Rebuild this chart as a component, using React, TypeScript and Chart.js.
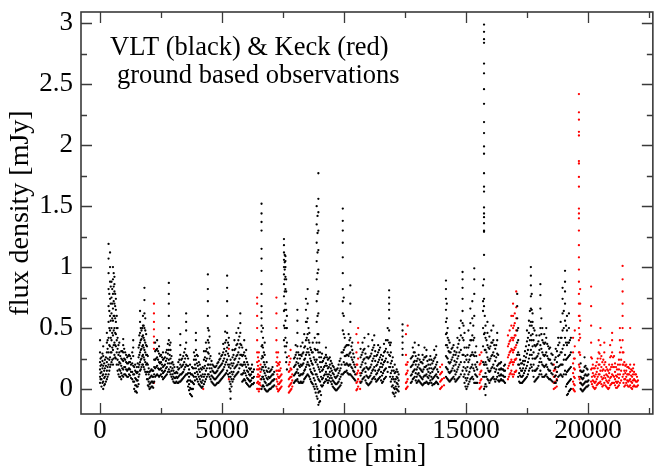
import React, { useEffect, useRef } from "react";
import { Chart, registerables } from "chart.js";

Chart.register(...registerables);

type Column = [number, number[]];

// ---- axis ticks ----
const xMajorTicks = [0, 5000, 10000, 15000, 20000];
const xMinorTicks = [2500, 7500, 12500, 17500, 22500];
const yMajorTicks = [0, 0.5, 1, 1.5, 2, 2.5, 3];
const yMinorTicks = [0.25, 0.75, 1.25, 1.75, 2.25, 2.75];
const xRange = [-780, 22660];
const yRange = [-0.205, 3.093];

const annotationLines = ["VLT (black) & Keck (red)", "ground based observations"];
const xTitle = "time [min]";
const yTitle = "flux density [mJy]";

// ---- VLT (black) : [time, flux values at that time] ----
const vltSegmentA: Column[] = [
  [0, [0.05, 0.1, 0.16, 0.22, 0.3, 0.4]],
  [60, [0.02, 0.08, 0.14, 0.2, 0.26]],
  [130, [0.0, 0.06, 0.12, 0.19, 0.27, 0.35]],
  [200, [0.04, 0.1, 0.17, 0.24]],
  [280, [0.08, 0.15, 0.22, 0.3, 0.38, 0.46]],
  [350, [0.12, 0.2, 0.3, 0.42, 0.55, 0.68, 0.82, 0.95, 1.07, 1.19]],
  [410, [0.18, 0.26, 0.35, 0.48, 0.6, 0.74, 0.88, 1.0, 1.12]],
  [470, [0.22, 0.3, 0.4, 0.5, 0.62, 0.75, 0.88]],
  [530, [0.2, 0.32, 0.44, 0.56, 0.66, 0.78, 0.9, 1.0]],
  [590, [0.28, 0.38, 0.5, 0.6, 0.7, 0.8, 0.86, 0.92]],
  [650, [0.25, 0.35, 0.45, 0.55, 0.65, 0.74]],
  [720, [0.15, 0.24, 0.33, 0.42, 0.5]],
  [790, [0.1, 0.16, 0.22, 0.3, 0.38]],
  [870, [0.08, 0.13, 0.19, 0.25, 0.31]],
  [950, [0.1, 0.16, 0.23, 0.3, 0.36, 0.41]],
  [1030, [0.12, 0.18, 0.24, 0.3]],
  [1110, [0.1, 0.15, 0.21, 0.26]],
  [1190, [0.12, 0.17, 0.22, 0.28]],
  [1270, [0.09, 0.14, 0.2, 0.25]],
  [1360, [0.06, 0.12, 0.19, 0.27, 0.34, 0.4]],
  [1440, [-0.02, 0.03, 0.09, 0.15, 0.2]],
  [1510, [-0.03, 0.02, 0.07, 0.13, 0.18]],
  [1580, [0.04, 0.1, 0.18, 0.26, 0.34]],
  [1640, [0.15, 0.22, 0.3, 0.38, 0.46, 0.55, 0.64]],
  [1700, [0.18, 0.25, 0.33, 0.41, 0.48]],
  [1760, [0.2, 0.28, 0.36, 0.44, 0.52, 0.6]],
  [1820, [0.16, 0.24, 0.32, 0.4, 0.5, 0.62, 0.73, 0.83]],
  [1890, [0.12, 0.2, 0.28, 0.36, 0.45]],
  [1960, [0.03, 0.08, 0.14, 0.2, 0.27]],
  [2030, [0.0, 0.04, 0.09, 0.14]],
  [2110, [0.02, 0.06, 0.11, 0.16]],
  [2180, [0.01, 0.05, 0.1, 0.15]],
  [2260, [0.1, 0.17, 0.24, 0.31, 0.38]],
  [2340, [0.12, 0.19, 0.26, 0.33, 0.4]],
  [2420, [0.1, 0.16, 0.22, 0.29, 0.35]],
  [2500, [0.12, 0.17, 0.22, 0.28]],
  [2580, [0.08, 0.13, 0.18, 0.24, 0.3]],
  [2660, [0.1, 0.15, 0.2, 0.26]],
  [2740, [0.12, 0.18, 0.25, 0.32]],
  [2820, [0.16, 0.24, 0.32, 0.4, 0.5, 0.6, 0.7, 0.78, 0.87]],
  [2890, [0.12, 0.18, 0.25, 0.32, 0.38]],
  [2970, [0.08, 0.12, 0.17, 0.22]],
  [3050, [0.05, 0.09, 0.13, 0.18]],
  [3130, [0.06, 0.1, 0.14]],
  [3210, [0.05, 0.1, 0.16, 0.22]],
  [3290, [0.06, 0.12, 0.2, 0.28, 0.36, 0.45]],
  [3370, [0.08, 0.13, 0.19, 0.25]],
  [3450, [0.1, 0.16, 0.22, 0.3]],
  [3530, [0.12, 0.2, 0.28, 0.38, 0.48, 0.55, 0.62]],
  [3610, [0.02, 0.07, 0.13, 0.19, 0.25]],
  [3690, [-0.04, 0.01, 0.07, 0.13, 0.2]],
  [3770, [-0.06, 0.0, 0.06, 0.12, 0.18]],
  [3850, [0.04, 0.1, 0.17, 0.24, 0.3]],
  [3930, [0.1, 0.17, 0.24, 0.32, 0.4, 0.46]],
  [4010, [0.06, 0.12, 0.19, 0.27]],
  [4090, [0.03, 0.08, 0.14, 0.2]],
  [4170, [0.01, 0.05, 0.1, 0.16]],
  [4260, [0.04, 0.1, 0.17, 0.24, 0.31]],
  [4340, [0.08, 0.15, 0.23, 0.31, 0.38]],
  [4420, [0.12, 0.2, 0.3, 0.4, 0.5, 0.6, 0.72, 0.82, 0.94]],
  [4490, [0.1, 0.17, 0.25, 0.34, 0.43]],
  [4570, [0.06, 0.11, 0.17, 0.23]],
  [4650, [0.04, 0.09, 0.14, 0.19]],
  [4730, [0.03, 0.08, 0.13, 0.18]],
  [4810, [0.05, 0.1, 0.15, 0.21]],
  [4890, [0.06, 0.12, 0.18, 0.24, 0.29]],
  [4970, [0.08, 0.14, 0.2, 0.27]],
];

const vltSegmentB: Column[] = [
  [5050, [0.1, 0.16, 0.23, 0.3, 0.37]],
  [5130, [0.12, 0.2, 0.28, 0.38, 0.47]],
  [5210, [0.15, 0.24, 0.34, 0.46, 0.6, 0.72, 0.83, 0.93]],
  [5280, [0.1, 0.18, 0.27, 0.36, 0.42]],
  [5350, [-0.08, -0.02, 0.04, 0.1, 0.17, 0.24]],
  [5430, [0.06, 0.12, 0.19, 0.26, 0.32]],
  [5510, [0.1, 0.17, 0.24, 0.32, 0.4]],
  [5590, [0.12, 0.19, 0.27, 0.36, 0.46]],
  [5670, [0.14, 0.22, 0.3, 0.4, 0.5]],
  [5750, [0.2, 0.28, 0.37, 0.46, 0.54, 0.62]],
  [5830, [0.06, 0.12, 0.19, 0.27, 0.34]],
  [5910, [0.08, 0.15, 0.22, 0.3, 0.4]],
  [5990, [0.05, 0.11, 0.18, 0.25, 0.32]],
  [6070, [0.03, 0.08, 0.14, 0.2]],
  [6150, [0.02, 0.06, 0.11, 0.16]],
  [6230, [0.04, 0.09, 0.14, 0.2]],
  [6310, [0.05, 0.1, 0.16]],
  [6620, [0.0, 0.08, 0.16, 0.25, 0.35, 0.47, 0.52, 0.58, 0.63, 0.68, 0.78, 0.86, 0.97, 1.07, 1.15, 1.3, 1.37, 1.44, 1.52]],
  [6680, [0.03, 0.1, 0.18, 0.26, 0.34, 0.42, 0.5]],
  [6750, [0.0, 0.06, 0.13, 0.2, 0.28, 0.38]],
  [6830, [-0.02, 0.03, 0.09, 0.15, 0.22]],
  [6910, [-0.01, 0.04, 0.1, 0.17]],
  [6990, [0.0, 0.05, 0.1, 0.15]],
  [7070, [0.02, 0.07, 0.12, 0.18]],
  [7140, [0.03, 0.08, 0.14]],
  [7540, [0.4, 0.52, 0.64, 0.76, 0.86, 0.94, 1.0, 1.06, 1.12, 1.18, 1.23]],
  [7600, [0.3, 0.42, 0.56, 0.7, 0.82, 0.92, 1.0, 1.05, 1.09]],
  [7660, [0.16, 0.26, 0.38, 0.5, 0.6]],
  [7950, [0.05, 0.11, 0.18, 0.25]],
  [8020, [0.07, 0.13, 0.2, 0.28, 0.36]],
  [8090, [0.08, 0.16, 0.25, 0.35, 0.46, 0.56, 0.65]],
  [8160, [0.05, 0.11, 0.19, 0.28]],
  [8230, [0.06, 0.12, 0.2, 0.28, 0.35]],
  [8300, [0.05, 0.12, 0.2, 0.29, 0.38]],
  [8370, [0.08, 0.15, 0.24, 0.34, 0.45]],
  [8440, [0.1, 0.18, 0.28, 0.4, 0.55, 0.65, 0.74]],
  [8510, [0.12, 0.22, 0.33, 0.45, 0.58, 0.7, 0.82]],
  [8580, [0.1, 0.19, 0.28, 0.38, 0.46]],
  [8650, [0.06, 0.14, 0.23, 0.32]],
  [8720, [0.04, 0.12, 0.2, 0.3, 0.38]],
  [8800, [0.0, 0.07, 0.15, 0.24, 0.33, 0.42]],
  [8880, [-0.06, 0.02, 0.12, 0.24, 0.38, 0.55, 0.72, 0.9, 1.05, 1.2, 1.35, 1.5]],
  [8950, [-0.13, -0.03, 0.08, 0.18, 0.3, 0.45, 0.62, 0.8, 0.98, 1.14, 1.3, 1.45, 1.56, 1.77]],
  [9020, [-0.1, -0.02, 0.06, 0.14, 0.22, 0.3]],
  [9100, [0.02, 0.08, 0.15, 0.22, 0.29]],
  [9180, [0.05, 0.11, 0.18, 0.25]],
  [9260, [0.08, 0.14, 0.21, 0.28, 0.34]],
  [9340, [0.05, 0.1, 0.17, 0.24]],
  [9420, [0.09, 0.14, 0.2, 0.26]],
  [9500, [0.04, 0.09, 0.15, 0.21]],
  [9580, [0.01, 0.06, 0.12, 0.18]],
  [9660, [-0.01, 0.04, 0.09, 0.15]],
  [9740, [0.0, 0.05, 0.11, 0.17]],
  [9820, [0.02, 0.08, 0.15, 0.23]],
  [9900, [0.05, 0.12, 0.2, 0.3]],
  [9950, [0.12, 0.3, 0.48, 0.62, 0.72, 0.82, 0.95, 1.08, 1.2, 1.3, 1.38, 1.48]],
  [10030, [0.14, 0.2, 0.27, 0.34, 0.42]],
  [10110, [0.15, 0.21, 0.28, 0.36]],
  [10190, [0.12, 0.19, 0.27, 0.36, 0.45]],
  [10260, [0.12, 0.2, 0.3, 0.42, 0.55, 0.7, 0.85]],
  [10340, [0.1, 0.17, 0.24, 0.32, 0.38]],
  [10420, [0.08, 0.14, 0.2, 0.26]],
];

const vltSegmentC: Column[] = [
  [10680, [0.05, 0.11, 0.18, 0.26, 0.33]],
  [10760, [0.08, 0.15, 0.22, 0.3, 0.38]],
  [10840, [0.1, 0.17, 0.25, 0.33, 0.42]],
  [10920, [0.05, 0.11, 0.18, 0.26]],
  [11000, [0.03, 0.09, 0.16, 0.25, 0.35, 0.45]],
  [11080, [0.05, 0.11, 0.18, 0.27]],
  [11160, [0.08, 0.15, 0.23, 0.32, 0.4]],
  [11240, [0.1, 0.18, 0.27, 0.36, 0.44]],
  [11320, [0.06, 0.12, 0.19, 0.27]],
  [11400, [0.08, 0.15, 0.22, 0.3, 0.36]],
  [11480, [0.1, 0.18, 0.26, 0.34]],
  [11560, [0.05, 0.11, 0.18, 0.24]],
  [11640, [0.08, 0.15, 0.22, 0.3, 0.37]],
  [11720, [0.1, 0.17, 0.25, 0.33, 0.4]],
  [11850, [0.18, 0.28, 0.38, 0.48, 0.58, 0.65, 0.7, 0.75, 0.81]],
  [11920, [0.06, 0.13, 0.21, 0.3, 0.38]],
  [12000, [-0.03, 0.03, 0.1, 0.18, 0.26]],
  [12080, [-0.06, 0.0, 0.06, 0.13, 0.2]],
  [12160, [0.0, 0.05, 0.1, 0.16]],
  [12240, [-0.02, 0.02, 0.07, 0.12]],
  [12400, [0.28, 0.33, 0.38, 0.43, 0.48, 0.53]],
  [12740, [0.05, 0.11, 0.18, 0.25]],
  [12820, [0.08, 0.14, 0.2, 0.27, 0.34]],
  [12900, [0.1, 0.16, 0.23, 0.3, 0.38]],
  [12980, [0.05, 0.1, 0.16, 0.23]],
  [13060, [0.07, 0.13, 0.2, 0.28, 0.36]],
  [13140, [0.05, 0.1, 0.16, 0.22]],
  [13220, [0.03, 0.08, 0.14, 0.21, 0.28]],
  [13300, [0.05, 0.11, 0.18, 0.26, 0.34]],
  [13380, [0.06, 0.12, 0.19, 0.27, 0.32]],
  [13460, [0.04, 0.09, 0.14, 0.2]],
  [13540, [0.07, 0.13, 0.2, 0.27]],
  [13620, [0.03, 0.08, 0.14, 0.21]],
  [13700, [0.04, 0.1, 0.17, 0.25, 0.32]],
  [13780, [0.06, 0.12, 0.2, 0.28, 0.35]],
  [13860, [0.04, 0.09, 0.14]],
  [14180, [0.1, 0.18, 0.27, 0.36, 0.45, 0.55, 0.65, 0.74, 0.82, 0.89]],
  [14250, [0.08, 0.16, 0.25, 0.34, 0.42, 0.5]],
  [14330, [0.06, 0.13, 0.21, 0.3, 0.38]],
  [14410, [0.08, 0.15, 0.24, 0.33]],
  [14490, [0.1, 0.19, 0.28, 0.36]],
  [14570, [0.06, 0.12, 0.2, 0.28]],
  [14650, [0.08, 0.16, 0.25, 0.34, 0.42]],
  [14730, [0.1, 0.2, 0.3, 0.4, 0.5]],
  [14860, [0.15, 0.28, 0.42, 0.54, 0.64, 0.74, 0.83, 0.9, 0.96]],
  [14940, [0.05, 0.12, 0.22, 0.34, 0.46]],
  [15020, [0.0, 0.07, 0.15, 0.24, 0.34]],
  [15100, [0.04, 0.12, 0.22, 0.34, 0.48]],
  [15180, [0.08, 0.17, 0.27, 0.4, 0.54, 0.66]],
  [15260, [0.1, 0.2, 0.3, 0.44, 0.58, 0.72]],
  [15340, [0.05, 0.15, 0.27, 0.42, 0.6, 0.78, 0.9, 0.99]],
  [15420, [0.05, 0.11, 0.18, 0.27, 0.35]],
  [15700, [0.1, 0.22, 0.35, 0.5, 0.64, 0.72, 0.85]],
  [15740, [0.0, 0.2, 0.45, 0.68, 0.74, 0.9, 1.1, 1.29, 1.3, 1.36, 1.41, 1.44, 1.49, 1.62, 1.66, 1.77, 1.93, 1.99, 2.1, 2.19, 2.34, 2.46, 2.59, 2.67, 2.84, 2.87, 2.93, 2.99]],
  [15800, [-0.05, 0.04, 0.13, 0.22, 0.32, 0.42, 0.52]],
  [15880, [0.08, 0.17, 0.26, 0.36, 0.46, 0.55]],
  [15960, [0.05, 0.14, 0.23, 0.33, 0.43]],
];

const vltSegmentD: Column[] = [
  [16040, [0.08, 0.17, 0.27, 0.38, 0.48]],
  [16120, [0.1, 0.2, 0.3, 0.4, 0.52]],
  [16200, [0.06, 0.14, 0.23, 0.33]],
  [16280, [0.1, 0.19, 0.29, 0.4, 0.46]],
  [16360, [0.06, 0.11, 0.16, 0.21]],
  [16440, [0.08, 0.12, 0.17, 0.22]],
  [16520, [0.07, 0.11, 0.16]],
  [16600, [0.05, 0.1, 0.15, 0.2]],
  [17100, [0.28, 0.38, 0.48, 0.58, 0.68, 0.78]],
  [17180, [0.06, 0.13, 0.2, 0.28]],
  [17260, [0.05, 0.1, 0.15, 0.21]],
  [17340, [0.06, 0.11, 0.17, 0.23]],
  [17420, [0.08, 0.15, 0.23, 0.31]],
  [17500, [0.1, 0.19, 0.29, 0.39, 0.48]],
  [17580, [0.15, 0.25, 0.36, 0.46, 0.56]],
  [17660, [0.2, 0.32, 0.44, 0.55, 0.66, 0.76, 0.85, 0.93, 1.0]],
  [17730, [0.15, 0.25, 0.35, 0.45, 0.55, 0.62]],
  [17810, [0.06, 0.15, 0.25, 0.36, 0.48]],
  [17890, [0.08, 0.16, 0.26, 0.36, 0.44]],
  [17970, [0.1, 0.19, 0.29, 0.39]],
  [18050, [0.15, 0.25, 0.36, 0.5, 0.66, 0.77, 0.86]],
  [18130, [0.1, 0.2, 0.3, 0.4, 0.5]],
  [18210, [0.1, 0.18, 0.27, 0.37, 0.45]],
  [18290, [0.12, 0.2, 0.3, 0.42, 0.5]],
  [18370, [0.09, 0.16, 0.25, 0.35]],
  [18450, [0.08, 0.15, 0.24, 0.34]],
  [18550, [0.06, 0.12, 0.2, 0.28]],
  [18680, [0.05, 0.11, 0.18, 0.26, 0.33]],
  [18780, [0.1, 0.18, 0.27, 0.36, 0.42]],
  [18880, [0.12, 0.2, 0.3, 0.42, 0.55]],
  [18960, [0.1, 0.2, 0.33, 0.48, 0.62, 0.74, 0.83]],
  [19060, [0.15, 0.28, 0.42, 0.56, 0.7, 0.8, 0.88, 0.97]],
  [19140, [-0.05, 0.04, 0.14, 0.25, 0.36, 0.48, 0.6]],
  [19220, [-0.02, 0.06, 0.16, 0.27, 0.38, 0.5, 0.62]],
  [19300, [0.0, 0.08, 0.18, 0.3, 0.42]],
  [19700, [0.0, 0.05, 0.1, 0.15, 0.21]],
  [19780, [-0.02, 0.03, 0.08, 0.14]],
  [19860, [0.0, 0.05, 0.11, 0.18, 0.26]],
  [19940, [0.02, 0.06, 0.11, 0.17]],
  [20020, [0.03, 0.07, 0.12]],
];

// extra VLT readings between the columns above (dense low-level band)
const vltBandFill: Column[] = [
  [20, [0.08, 0.13, 0.19, 0.25]], [100, [0.05, 0.11, 0.17, 0.23, 0.29]], [170, [0.03, 0.09, 0.15, 0.21]],
  [240, [0.06, 0.12, 0.19, 0.26]], [310, [0.1, 0.18, 0.25, 0.33, 0.4]], [380, [0.15, 0.24, 0.36, 0.5, 0.64, 0.78]],
  [440, [0.2, 0.3, 0.42, 0.56, 0.7, 0.84]], [500, [0.24, 0.34, 0.46, 0.58, 0.7, 0.82]],
  [560, [0.25, 0.36, 0.48, 0.6, 0.72, 0.84, 0.95]], [620, [0.26, 0.36, 0.46, 0.58, 0.68, 0.78]],
  [685, [0.2, 0.3, 0.4, 0.5, 0.6]], [755, [0.12, 0.2, 0.28, 0.36]], [830, [0.1, 0.15, 0.21, 0.27]],
  [910, [0.11, 0.17, 0.24, 0.31]], [990, [0.12, 0.18, 0.25, 0.33]], [1070, [0.11, 0.16, 0.22, 0.28]],
  [1150, [0.1, 0.16, 0.21, 0.27]], [1230, [0.11, 0.16, 0.22, 0.27]], [1320, [0.08, 0.14, 0.21, 0.3]],
  [1400, [0.0, 0.06, 0.12, 0.18]], [1475, [-0.02, 0.03, 0.08, 0.14]], [1545, [0.02, 0.07, 0.14, 0.21]],
  [1610, [0.12, 0.2, 0.28, 0.36, 0.44]], [1670, [0.16, 0.24, 0.32, 0.4, 0.5]], [1730, [0.2, 0.27, 0.35, 0.43, 0.5]],
  [1790, [0.18, 0.26, 0.34, 0.42, 0.52]], [1855, [0.14, 0.22, 0.3, 0.38, 0.48, 0.58]], [1925, [0.08, 0.14, 0.21, 0.28, 0.35]],
  [1995, [0.02, 0.06, 0.12, 0.17]], [2070, [0.01, 0.05, 0.1, 0.15]], [2145, [0.02, 0.06, 0.1, 0.15]],
  [2220, [0.06, 0.12, 0.18, 0.24]], [2300, [0.11, 0.18, 0.25, 0.32]], [2380, [0.11, 0.17, 0.24, 0.31]],
  [2460, [0.11, 0.16, 0.21, 0.27]], [2540, [0.1, 0.15, 0.2, 0.26]], [2620, [0.09, 0.14, 0.19, 0.25]],
  [2700, [0.11, 0.17, 0.23, 0.3]], [2780, [0.14, 0.21, 0.29, 0.37]], [2855, [0.14, 0.21, 0.28, 0.36]],
  [2930, [0.1, 0.15, 0.21, 0.27]], [3010, [0.06, 0.1, 0.15, 0.2]], [3090, [0.05, 0.09, 0.13]],
  [3170, [0.05, 0.09, 0.13, 0.18]], [3250, [0.06, 0.11, 0.17, 0.24]], [3330, [0.07, 0.12, 0.18, 0.24]],
  [3410, [0.09, 0.14, 0.2, 0.27]], [3490, [0.11, 0.18, 0.25, 0.33]], [3570, [0.06, 0.12, 0.19, 0.27]],
  [3650, [-0.01, 0.04, 0.1, 0.16]], [3730, [-0.05, 0.0, 0.06, 0.12]], [3810, [0.0, 0.05, 0.11, 0.17]],
  [3890, [0.07, 0.13, 0.2, 0.27]], [3970, [0.08, 0.14, 0.21, 0.28]], [4050, [0.04, 0.1, 0.16, 0.22]],
  [4130, [0.02, 0.06, 0.11, 0.17]], [4210, [0.02, 0.07, 0.12, 0.18]], [4300, [0.06, 0.12, 0.19, 0.26]],
  [4380, [0.1, 0.17, 0.25, 0.33]], [4455, [0.12, 0.2, 0.29, 0.38, 0.48]], [4530, [0.08, 0.14, 0.2, 0.27]],
  [4610, [0.05, 0.1, 0.15, 0.2]], [4690, [0.03, 0.08, 0.13, 0.18]], [4770, [0.04, 0.09, 0.14, 0.19]],
  [4850, [0.05, 0.11, 0.17, 0.22]], [4930, [0.07, 0.13, 0.19, 0.25]], [5010, [0.09, 0.15, 0.21, 0.28]],
  [5090, [0.11, 0.18, 0.25, 0.33]], [5170, [0.13, 0.22, 0.31, 0.4]], [5245, [0.12, 0.2, 0.29, 0.38]],
  [5315, [0.0, 0.06, 0.13, 0.2]], [5390, [0.02, 0.08, 0.14, 0.21]], [5470, [0.08, 0.14, 0.21, 0.28]],
  [5550, [0.11, 0.18, 0.25, 0.33]], [5630, [0.13, 0.2, 0.28, 0.37]], [5710, [0.17, 0.25, 0.34, 0.43]],
  [5790, [0.12, 0.2, 0.28, 0.36]], [5870, [0.07, 0.13, 0.2, 0.28]], [5950, [0.07, 0.13, 0.2, 0.27]],
  [6030, [0.04, 0.09, 0.15, 0.22]], [6110, [0.02, 0.07, 0.12, 0.17]], [6190, [0.03, 0.07, 0.12, 0.17]],
  [6270, [0.04, 0.09, 0.14]], [6650, [0.02, 0.1, 0.18, 0.27, 0.36]], [6715, [0.02, 0.08, 0.15, 0.22, 0.3]],
  [6790, [-0.01, 0.05, 0.11, 0.18]], [6870, [-0.02, 0.03, 0.08, 0.14]], [6950, [0.0, 0.04, 0.09, 0.14]],
  [7030, [0.01, 0.06, 0.11, 0.16]], [7105, [0.02, 0.07, 0.12]], [7570, [0.35, 0.5, 0.65, 0.8, 0.9, 0.98, 1.04, 1.1]],
  [7630, [0.22, 0.35, 0.5, 0.65, 0.8, 0.9]], [7985, [0.06, 0.12, 0.19, 0.26]], [8055, [0.07, 0.14, 0.22, 0.3]],
  [8125, [0.06, 0.13, 0.21, 0.3]], [8195, [0.05, 0.11, 0.18, 0.25]], [8265, [0.05, 0.12, 0.19, 0.27]],
  [8335, [0.06, 0.13, 0.21, 0.3]], [8405, [0.09, 0.16, 0.25, 0.35]], [8475, [0.11, 0.2, 0.3, 0.42, 0.55]],
  [8545, [0.11, 0.2, 0.3, 0.4, 0.5]], [8615, [0.08, 0.16, 0.25, 0.34]], [8685, [0.05, 0.13, 0.21, 0.3]],
  [8760, [0.02, 0.09, 0.17, 0.26]], [8840, [-0.03, 0.04, 0.12, 0.22, 0.32]],
  [8915, [-0.08, 0.0, 0.1, 0.2, 0.32, 0.45, 0.6, 0.78, 0.95, 1.12, 1.28, 1.42]],
  [8985, [-0.11, -0.02, 0.07, 0.16, 0.26, 0.38]], [9060, [-0.05, 0.03, 0.1, 0.18, 0.26]],
  [9140, [0.03, 0.09, 0.16, 0.23]], [9220, [0.06, 0.12, 0.19, 0.26]], [9300, [0.07, 0.12, 0.19, 0.26]],
  [9380, [0.07, 0.12, 0.18, 0.25]], [9460, [0.06, 0.11, 0.17, 0.23]], [9540, [0.02, 0.07, 0.13, 0.19]],
  [9620, [0.0, 0.05, 0.1, 0.16]], [9700, [-0.01, 0.04, 0.1, 0.16]], [9780, [0.01, 0.06, 0.13, 0.2]],
  [9860, [0.03, 0.1, 0.17, 0.25]], [9990, [0.13, 0.22, 0.32, 0.45, 0.6, 0.75]], [10070, [0.14, 0.2, 0.27, 0.35]],
  [10150, [0.13, 0.2, 0.28, 0.36]], [10225, [0.12, 0.2, 0.29, 0.4]], [10300, [0.11, 0.18, 0.26, 0.35]],
  [10380, [0.09, 0.15, 0.22, 0.29]], [10460, [0.07, 0.12, 0.18]], [10720, [0.06, 0.13, 0.2, 0.28]],
  [10800, [0.09, 0.16, 0.24, 0.32]], [10880, [0.07, 0.14, 0.21, 0.29]], [10960, [0.04, 0.1, 0.17, 0.26]],
  [11040, [0.04, 0.1, 0.17, 0.26]], [11120, [0.06, 0.13, 0.2, 0.29]], [11200, [0.09, 0.16, 0.25, 0.34]],
  [11280, [0.08, 0.15, 0.23, 0.31]], [11360, [0.07, 0.13, 0.2, 0.28]], [11440, [0.09, 0.16, 0.24, 0.32]],
  [11520, [0.07, 0.14, 0.21, 0.28]], [11600, [0.06, 0.13, 0.2, 0.27]], [11680, [0.09, 0.16, 0.23, 0.31]],
  [11790, [0.14, 0.22, 0.3, 0.4, 0.5]], [11890, [0.1, 0.18, 0.27, 0.36]], [11960, [0.02, 0.08, 0.15, 0.23]],
  [12040, [-0.04, 0.01, 0.08, 0.15]], [12120, [-0.03, 0.02, 0.08, 0.14]], [12200, [-0.01, 0.04, 0.09, 0.14]],
  [12780, [0.06, 0.12, 0.19, 0.26]], [12860, [0.09, 0.15, 0.22, 0.3]], [12940, [0.07, 0.13, 0.2, 0.27]],
  [13020, [0.06, 0.12, 0.18, 0.25]], [13100, [0.06, 0.11, 0.17, 0.24]], [13180, [0.04, 0.09, 0.15, 0.22]],
  [13260, [0.04, 0.1, 0.16, 0.24]], [13340, [0.05, 0.11, 0.18, 0.26]], [13420, [0.05, 0.1, 0.16, 0.23]],
  [13500, [0.05, 0.11, 0.17, 0.24]], [13580, [0.05, 0.1, 0.17, 0.24]], [13660, [0.04, 0.09, 0.16, 0.23]],
  [13740, [0.05, 0.11, 0.18, 0.26]], [13820, [0.05, 0.1, 0.16, 0.22]],
  [14215, [0.09, 0.17, 0.26, 0.36, 0.46, 0.58, 0.7]], [14290, [0.07, 0.14, 0.22, 0.31, 0.4]],
  [14370, [0.07, 0.14, 0.22, 0.3]], [14450, [0.09, 0.17, 0.26, 0.34]], [14530, [0.08, 0.15, 0.23, 0.31]],
  [14610, [0.07, 0.14, 0.22, 0.3]], [14690, [0.09, 0.18, 0.27, 0.37]], [14790, [0.12, 0.22, 0.32, 0.44, 0.56]],
  [14900, [0.1, 0.18, 0.28, 0.4, 0.52]], [14980, [0.02, 0.09, 0.17, 0.27]], [15060, [0.02, 0.09, 0.18, 0.28]],
  [15140, [0.06, 0.14, 0.24, 0.36]], [15220, [0.09, 0.18, 0.28, 0.4]], [15300, [0.08, 0.17, 0.28, 0.4, 0.52]],
  [15380, [0.05, 0.12, 0.2, 0.3]], [15460, [0.05, 0.1, 0.16, 0.22]], [15770, [0.02, 0.1, 0.2, 0.32, 0.46, 0.6]],
  [15840, [0.02, 0.1, 0.2, 0.3, 0.4]], [15920, [0.07, 0.15, 0.24, 0.34]], [16000, [0.07, 0.15, 0.25, 0.35]],
  [16080, [0.09, 0.18, 0.28, 0.38]], [16160, [0.08, 0.17, 0.27, 0.36]], [16240, [0.08, 0.16, 0.26, 0.36]],
  [16320, [0.07, 0.13, 0.2, 0.28]], [16400, [0.07, 0.11, 0.16, 0.21]], [16480, [0.07, 0.11, 0.16]],
  [16560, [0.06, 0.1, 0.15, 0.19]], [17140, [0.1, 0.2, 0.3, 0.4, 0.5]], [17220, [0.05, 0.11, 0.17, 0.24]],
  [17300, [0.05, 0.1, 0.15, 0.21]], [17380, [0.07, 0.13, 0.2, 0.27]], [17460, [0.09, 0.17, 0.26, 0.35]],
  [17540, [0.12, 0.22, 0.32, 0.42]], [17620, [0.17, 0.28, 0.4, 0.52, 0.64]], [17695, [0.18, 0.28, 0.4, 0.52, 0.65, 0.78]],
  [17770, [0.1, 0.2, 0.3, 0.4, 0.5]], [17850, [0.07, 0.15, 0.25, 0.35]], [17930, [0.09, 0.17, 0.27, 0.37]],
  [18010, [0.12, 0.22, 0.32, 0.44]], [18090, [0.12, 0.22, 0.33, 0.45, 0.58]], [18170, [0.1, 0.19, 0.28, 0.38]],
  [18250, [0.11, 0.19, 0.28, 0.38]], [18330, [0.1, 0.18, 0.27, 0.37]], [18410, [0.08, 0.15, 0.24, 0.33]],
  [18500, [0.07, 0.13, 0.21, 0.29]], [18640, [0.05, 0.1, 0.17, 0.24]], [18730, [0.07, 0.14, 0.22, 0.31]],
  [18830, [0.11, 0.19, 0.28, 0.38]], [18920, [0.11, 0.2, 0.3, 0.42]], [19010, [0.12, 0.24, 0.36, 0.5, 0.64]],
  [19100, [0.02, 0.12, 0.24, 0.38, 0.52]], [19180, [-0.04, 0.05, 0.15, 0.26, 0.38]], [19260, [-0.01, 0.07, 0.17, 0.28, 0.4]],
  [19740, [-0.01, 0.04, 0.09, 0.14]], [19820, [-0.01, 0.04, 0.09, 0.15]], [19900, [0.01, 0.06, 0.12, 0.19]],
  [19980, [0.02, 0.06, 0.11, 0.16]],
];

// ---- Keck (red) ----
const keckSegmentA: Column[] = [
  [2210, [0.05, 0.33, 0.38, 0.43, 0.49, 0.55, 0.62, 0.7]],
  [4230, [0.0]],
  [5280, [0.08, 0.33]],
  [6440, [0.0, 0.05, 0.1, 0.16, 0.22, 0.3, 0.4, 0.5, 0.6, 0.7, 0.75]],
  [6510, [-0.02, 0.04, 0.1, 0.16, 0.23, 0.3]],
  [6580, [0.03, 0.08, 0.14, 0.2]],
  [7230, [0.02, 0.08, 0.15, 0.22, 0.3, 0.4, 0.5, 0.62, 0.75]],
  [7300, [-0.02, 0.04, 0.1, 0.15, 0.21, 0.3]],
  [7370, [0.0, 0.05, 0.1, 0.15, 0.22]],
  [7440, [0.02, 0.07, 0.12]],
  [7740, [-0.03, 0.02, 0.08, 0.14, 0.2, 0.27]],
  [7810, [-0.01, 0.04, 0.1, 0.17, 0.25, 0.32]],
  [7880, [0.02, 0.07, 0.12]],
  [10510, [-0.01, 0.05, 0.12, 0.2, 0.3, 0.45]],
  [10580, [0.02, 0.08, 0.15, 0.25, 0.38, 0.5]],
  [10660, [0.0, 0.06, 0.13]],
  [12540, [0.0, 0.05, 0.12, 0.2, 0.28, 0.45]],
  [12610, [0.02, 0.08, 0.15, 0.22, 0.52]],
  [13940, [0.0, 0.06, 0.12, 0.18]],
  [14020, [0.02, 0.08, 0.14, 0.2]],
  [14100, [0.03, 0.09]],
];

const keckSegmentB: Column[] = [
  [15560, [0.0, 0.05, 0.12, 0.2, 0.28]],
  [15630, [0.02, 0.08, 0.15, 0.23, 0.3]],
  [16720, [0.08, 0.17, 0.26, 0.35, 0.44]],
  [16790, [0.12, 0.21, 0.3, 0.39, 0.48]],
  [16860, [0.15, 0.24, 0.33, 0.42, 0.52, 0.6]],
  [16930, [0.1, 0.2, 0.3, 0.4, 0.5, 0.6, 0.7]],
  [17000, [0.14, 0.24, 0.34, 0.44, 0.54, 0.62]],
  [17060, [0.15, 0.25, 0.36, 0.48, 0.58, 0.67, 0.8]],
  [18600, [0.0, 0.05, 0.1, 0.15, 0.2]],
  [18720, [0.02, 0.08, 0.14]],
  [19390, [0.0, 0.06, 0.13, 0.21, 0.3, 0.42]],
  [19460, [-0.02, 0.03, 0.09, 0.16, 0.25, 0.35, 0.48]],
  [19630, [0.1, 0.2, 0.3, 0.4, 0.5, 0.6, 0.7, 0.78, 0.88, 0.98, 1.08, 1.18, 1.3, 1.4, 1.44, 1.48, 1.66, 1.74, 1.85, 1.87, 2.08, 2.11, 2.21, 2.27, 2.42]],
  [19680, [0.05, 0.15, 0.28, 0.42, 0.56, 0.7, 0.82]],
  [20130, [0.06, 0.16, 0.26, 0.38, 0.52, 0.68, 0.84]],
  [20200, [0.02, 0.07, 0.13, 0.2]],
  [20280, [0.0, 0.05, 0.1, 0.17]],
  [20360, [0.03, 0.08, 0.14, 0.22]],
  [20440, [0.05, 0.12, 0.2, 0.3, 0.4]],
  [20510, [0.06, 0.15, 0.25, 0.36, 0.5]],
  [20590, [0.02, 0.08, 0.15, 0.22]],
  [20670, [0.05, 0.11, 0.2, 0.3, 0.38]],
  [20750, [0.02, 0.07, 0.12, 0.18]],
  [20830, [0.0, 0.05, 0.1, 0.15]],
  [20910, [0.03, 0.09, 0.16, 0.26, 0.36]],
  [20990, [0.05, 0.12, 0.2, 0.3, 0.4, 0.46]],
  [21070, [0.05, 0.1, 0.18, 0.27]],
  [21150, [0.01, 0.06, 0.11, 0.18]],
  [21230, [0.02, 0.06, 0.12, 0.2]],
  [21310, [0.05, 0.12, 0.2, 0.3, 0.4, 0.5]],
  [21420, [0.1, 0.2, 0.3, 0.4, 0.5, 0.6, 0.7, 0.8, 0.9, 1.01]],
  [21490, [0.02, 0.08, 0.15, 0.22]],
  [21570, [0.05, 0.1, 0.15, 0.2]],
  [21650, [0.02, 0.06, 0.12, 0.18]],
  [21730, [0.03, 0.08, 0.14, 0.2, 0.5]],
  [21810, [0.0, 0.05, 0.1, 0.15]],
  [21890, [0.03, 0.08, 0.14, 0.2]],
  [21970, [0.02, 0.06, 0.12]],
  [22050, [0.03, 0.07]],
];

const keckBandFill: Column[] = [
  [6475, [0.0, 0.06, 0.12, 0.19, 0.26]], [6545, [0.0, 0.05, 0.11, 0.17]], [7265, [0.0, 0.06, 0.12, 0.19, 0.26]],
  [7335, [-0.01, 0.04, 0.09, 0.15, 0.2]], [7405, [0.01, 0.06, 0.11, 0.17]], [7775, [-0.02, 0.03, 0.09, 0.15, 0.22]],
  [7845, [0.0, 0.05, 0.1, 0.16]], [10545, [0.0, 0.06, 0.13, 0.2]], [12575, [0.01, 0.06, 0.13, 0.2]],
  [13980, [0.01, 0.07, 0.13]], [15595, [0.01, 0.07, 0.14, 0.21]], [16755, [0.1, 0.19, 0.28, 0.37]],
  [16825, [0.13, 0.22, 0.31, 0.4]], [16895, [0.12, 0.22, 0.32, 0.42]], [16965, [0.12, 0.22, 0.32, 0.42, 0.52]],
  [17030, [0.14, 0.24, 0.34, 0.44]], [18660, [0.01, 0.06, 0.11, 0.16]], [19425, [-0.01, 0.04, 0.1, 0.17, 0.25]],
  [19655, [0.08, 0.18, 0.3, 0.45, 0.6]], [20165, [0.04, 0.1, 0.17, 0.25]], [20240, [0.01, 0.06, 0.11, 0.17]],
  [20320, [0.01, 0.06, 0.12, 0.19]], [20400, [0.04, 0.1, 0.17, 0.25]], [20475, [0.05, 0.12, 0.2, 0.29]],
  [20550, [0.04, 0.1, 0.18, 0.27]], [20630, [0.03, 0.09, 0.16, 0.24]], [20710, [0.03, 0.09, 0.15, 0.22]],
  [20790, [0.01, 0.06, 0.11, 0.16]], [20870, [0.01, 0.07, 0.13, 0.2]], [20950, [0.04, 0.1, 0.18, 0.27]],
  [21030, [0.05, 0.11, 0.18, 0.26]], [21110, [0.03, 0.08, 0.14, 0.21]], [21190, [0.01, 0.05, 0.1, 0.16]],
  [21270, [0.03, 0.09, 0.16, 0.24]], [21360, [0.07, 0.15, 0.24, 0.34]], [21455, [0.05, 0.12, 0.2, 0.3]],
  [21530, [0.03, 0.08, 0.13, 0.19]], [21610, [0.03, 0.07, 0.12, 0.18]], [21690, [0.02, 0.07, 0.12, 0.17]],
  [21770, [0.01, 0.06, 0.11, 0.16]], [21850, [0.02, 0.07, 0.12, 0.17]], [21930, [0.02, 0.07, 0.12]],
  [22010, [0.02, 0.06, 0.1]],
];

const SERIF = '"Liberation Serif", "Times New Roman", serif';

function toPoints(segments: Column[][]) {
  const pts: { x: number; y: number }[] = [];
  for (const seg of segments) {
    for (const [t, fs] of seg) {
      for (const f of fs) pts.push({ x: t, y: f });
    }
  }
  return pts;
}

const framePlugin = {
  id: "frameTicks",
  afterDatasetsDraw(chart: any) {
    const { ctx, chartArea: a, scales } = chart;
    const xs = scales.x;
    const ys = scales.y;
    ctx.save();
    ctx.strokeStyle = "#3a3a3a";
    ctx.lineWidth = 1.3;
    ctx.beginPath();
    const xt = (vals: number[], len: number) => {
      for (const v of vals) {
        const p = Math.round(xs.getPixelForValue(v)) + 0.5;
        ctx.moveTo(p, a.bottom);
        ctx.lineTo(p, a.bottom - len);
        ctx.moveTo(p, a.top);
        ctx.lineTo(p, a.top + len);
      }
    };
    const yt = (vals: number[], len: number) => {
      for (const v of vals) {
        const p = Math.round(ys.getPixelForValue(v)) + 0.5;
        ctx.moveTo(a.left, p);
        ctx.lineTo(a.left + len, p);
        ctx.moveTo(a.right, p);
        ctx.lineTo(a.right - len, p);
      }
    };
    xt(xMajorTicks, 11);
    xt(xMinorTicks, 6);
    yt(yMajorTicks, 11);
    yt(yMinorTicks, 6);
    ctx.stroke();
    ctx.lineWidth = 1.6;
    ctx.strokeRect(a.left, a.top, a.right - a.left, a.bottom - a.top);

    ctx.fillStyle = "#000";
    ctx.font = `26.5px ${SERIF}`;
    ctx.textAlign = "left";
    ctx.textBaseline = "alphabetic";
    ctx.fillText(annotationLines[0], a.left + 29, a.top + 43);
    ctx.fillText(annotationLines[1], a.left + 36, a.top + 71);
    ctx.restore();
  },
};

export default function App() {
  const canvasRef = useRef<HTMLCanvasElement | null>(null);

  useEffect(() => {
    const canvas = canvasRef.current;
    if (!canvas) return;
    const black = toPoints([vltSegmentA, vltSegmentB, vltSegmentC, vltSegmentD, vltBandFill]);
    const red = toPoints([keckSegmentA, keckSegmentB, keckBandFill]);
    const tickFont = { family: SERIF, size: 27 };
    const chart = new Chart(canvas, {
      type: "scatter",
      data: {
        datasets: [
          {
            label: "VLT",
            data: black,
            backgroundColor: "#000000",
            borderWidth: 0,
            pointRadius: 1.15,
            pointHoverRadius: 1.15,
          },
          {
            label: "Keck",
            data: red,
            backgroundColor: "#ff0000",
            borderWidth: 0,
            pointRadius: 1.15,
            pointHoverRadius: 1.15,
          },
        ],
      },
      options: {
        animation: false,
        responsive: false,
        devicePixelRatio: 1,
        layout: { padding: { top: 12, right: 1, left: 0, bottom: 0 } },
        plugins: {
          legend: { display: false },
          tooltip: { enabled: false },
          title: { display: false },
        },
        scales: {
          x: {
            type: "linear",
            min: xRange[0],
            max: xRange[1],
            grid: { display: false, drawTicks: false },
            border: { display: false },
            afterBuildTicks: (s: any) => {
              s.ticks = xMajorTicks.map((v) => ({ value: v }));
            },
            afterFit: (s: any) => {
              s.height = 56;
              s.paddingLeft = 0;
              s.paddingRight = 0;
            },
            ticks: {
              font: tickFont,
              color: "#000",
              padding: 1,
              maxRotation: 0,
              autoSkip: false,
              callback: (v: any) => String(v),
            },
            title: {
              display: true,
              text: xTitle,
              color: "#000",
              font: { family: SERIF, size: 28, lineHeight: 1.1 },
              padding: { top: 0, bottom: 0 },
            },
          },
          y: {
            type: "linear",
            min: yRange[0],
            max: yRange[1],
            grid: { display: false, drawTicks: false },
            border: { display: false },
            afterBuildTicks: (s: any) => {
              s.ticks = yMajorTicks.map((v) => ({ value: v }));
            },
            afterFit: (s: any) => {
              s.width = 81;
              s.paddingTop = 0;
              s.paddingBottom = 0;
            },
            ticks: {
              font: tickFont,
              color: "#000",
              padding: 8,
              autoSkip: false,
              callback: (v: any) => String(v),
            },
            title: {
              display: true,
              text: yTitle,
              color: "#000",
              font: { family: SERIF, size: 28, lineHeight: 1.1 },
              padding: { top: 5, bottom: 0 },
            },
          },
        },
      },
      plugins: [framePlugin],
    });
    return () => chart.destroy();
  }, []);

  return (
    <div style={{ position: "fixed", left: 0, top: 0, width: 654, height: 470, background: "#fff" }}>
      <canvas ref={canvasRef} width={654} height={470} style={{ display: "block" }} />
    </div>
  );
}
